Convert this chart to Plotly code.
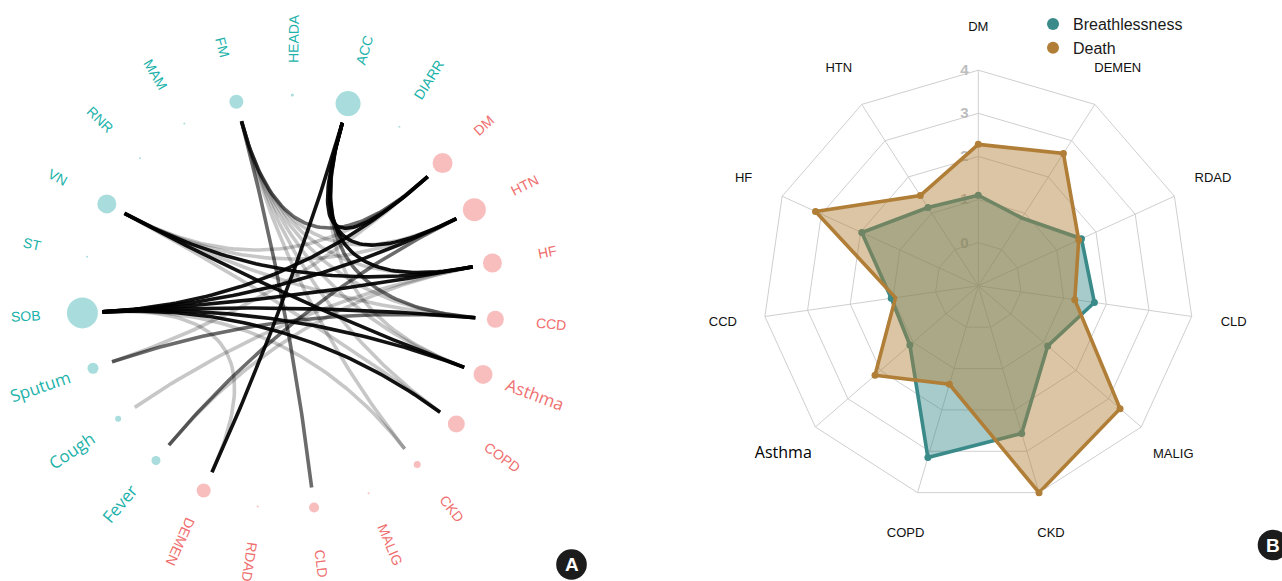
import numpy as np
import plotly.graph_objects as go

# ---------------- Panel A: symptom / comorbidity network ----------------
nodes = ["HEADA", "ACC", "DIARR", "DM", "HTN", "HF", "CCD", "Asthma", "COPD",
         "CKD", "MALIG", "CLD", "RDAD", "DEMEN", "Fever", "Cough", "Sputum",
         "SOB", "ST", "VN", "RNR", "MAM", "FM"]
node_kind = ["sym", "sym", "sym", "dis", "dis", "dis", "dis", "dis", "dis",
             "dis", "dis", "dis", "dis", "dis", "sym", "sym", "sym",
             "sym", "sym", "sym", "sym", "sym", "sym"]
node_size = [3, 25, 2, 20, 23, 19, 17, 19, 17,
             7, 2, 10, 2, 14, 9, 6, 11,
             31, 2, 19, 2, 2, 14]
large_labels = ["Sputum", "Cough", "Fever", "Asthma"]

edge_src = ["SOB", "SOB", "SOB", "SOB", "SOB", "SOB", "SOB", "SOB",
            "ACC", "ACC", "ACC", "ACC", "ACC", "ACC",
            "VN", "VN", "VN", "VN", "VN", "VN",
            "FM", "FM", "FM", "FM", "FM", "FM", "FM", "FM",
            "Sputum", "Sputum", "Cough", "Fever", "Fever"]
edge_dst = ["DM", "HTN", "HF", "CCD", "Asthma", "COPD", "CKD", "DEMEN",
            "DM", "HTN", "HF", "CCD", "DEMEN", "Asthma",
            "DM", "HTN", "HF", "CCD", "Asthma", "COPD",
            "DM", "HTN", "HF", "CCD", "Asthma", "COPD", "CKD", "CLD",
            "CCD", "DM", "HF", "HTN", "HF"]
edge_strength = [3, 3, 3, 3, 3, 3, 1, 1,
                 3, 3, 3, 2, 3, 1,
                 1, 1, 3, 1, 3, 1,
                 2, 1, 1, 1, 1, 1, 1, 2,
                 2, 1, 1, 2, 1]

# ---------------- Panel B: radar ----------------
categories = ["DM", "DEMEN", "RDAD", "CLD", "MALIG", "CKD", "COPD", "Asthma",
              "CCD", "HF", "HTN"]
breathlessness = [1.10, 0.87, 1.63, 1.72, 1.13, 2.57, 3.15, 1.10, 1.04, 1.97, 1.16]
death = [2.28, 2.65, 1.56, 1.26, 3.35, 4.00, 1.38, 2.17, 0.94, 3.15, 1.49]
radial_ticks = [0, 1, 2, 3, 4]

W, H = 1282, 581
TEAL_TXT, CORAL_TXT = "#20B2AA", "#EF6E6E"
TEAL_NODE, CORAL_NODE = "#85CFCF", "#F5A3A3"

fig = go.Figure()

# circular layout, clockwise from the top
n = len(nodes)
ang_deg = 89.1 - np.arange(n) * 360.0 / n
ang = np.radians(ang_deg)
nx, ny = np.cos(ang), np.sin(ang)
idx = {name: i for i, name in enumerate(nodes)}

EDGE_R = 0.903
LABEL_R = 1.272
edge_rgba = {1: "rgba(0,0,0,0.22)", 2: "rgba(0,0,0,0.58)", 3: "rgba(0,0,0,0.93)"}

t = np.linspace(0, 1, 60)
order = sorted(range(len(edge_src)), key=lambda k: edge_strength[k])
for k in order:
    a, b = idx[edge_src[k]], idx[edge_dst[k]]
    p0 = EDGE_R * np.array([nx[a], ny[a]])
    p2 = EDGE_R * np.array([nx[b], ny[b]])
    # quadratic Bezier bent through the circle centre
    cx_ = (1 - t) ** 2 * p0[0] + t ** 2 * p2[0]
    cy_ = (1 - t) ** 2 * p0[1] + t ** 2 * p2[1]
    fig.add_trace(go.Scatter(x=cx_, y=cy_, mode="lines",
                             line=dict(color=edge_rgba[edge_strength[k]], width=3.6),
                             hoverinfo="skip", showlegend=False,
                             xaxis="x", yaxis="y"))

fig.add_trace(go.Scatter(
    x=nx, y=ny, mode="markers", text=nodes, hoverinfo="text",
    marker=dict(size=node_size,
                color=[TEAL_NODE if k == "sym" else CORAL_NODE for k in node_kind],
                line=dict(width=0)),
    showlegend=False, xaxis="x", yaxis="y"))

annotations = []
for i, name in enumerate(nodes):
    a = ang_deg[i] % 360
    if 90 < a < 240:
        rot = 180 - a
    else:
        rot = -a
    rot = (rot + 180) % 360 - 180
    big = name in large_labels
    annotations.append(dict(
        x=LABEL_R * nx[i], y=LABEL_R * ny[i], xref="x", yref="y",
        text=name, showarrow=False, textangle=rot,
        xanchor="center", yanchor="middle",
        font=dict(family="Open Sans" if big else "Liberation Sans, Arial",
                  size=17 if big else 14,
                  color=TEAL_TXT if node_kind[i] == "sym" else CORAL_TXT)))

# ---------------- radar traces ----------------
closed = categories + [categories[0]]
series = [("Breathlessness", breathlessness, "#3B8A8A", "rgba(59,138,138,0.45)"),
          ("Death", death, "#B07E36", "rgba(176,126,54,0.45)")]
for name, vals, col, fill in series:
    r = list(vals) + [vals[0]]
    fig.add_trace(go.Scatterpolar(r=r, theta=closed, mode="lines", fill="toself",
                                  fillcolor=fill, line=dict(color=col, width=3.6),
                                  showlegend=False, hoverinfo="skip"))
    fig.add_trace(go.Scatterpolar(r=vals, theta=categories, mode="markers", name=name,
                                  marker=dict(color=col, size=7)))

# category names: a concentric, axis-less polar frame slightly larger than the
# radar, so each name sits centred on its spoke just outside the outer ring
cxp, cyp, R = 978.3, 285.8, 215.6
R_TXT = 272.0
LABEL_RING = 258.0 / R_TXT
cat_text = [c if c != "Asthma" else
            "<span style='font-family:Open Sans;font-size:16px;color:#000'>Asthma</span>"
            for c in categories]
fig.add_trace(go.Scatterpolar(r=[LABEL_RING] * len(categories), theta=categories,
                              mode="text", text=cat_text, textposition="middle center",
                              textfont=dict(family="Liberation Sans, Arial", size=13,
                                            color="#111111"),
                              subplot="polar2", cliponaxis=False,
                              showlegend=False, hoverinfo="skip"))

fig.update_layout(
    width=W, height=H,
    margin=dict(l=0, r=0, t=0, b=0),
    paper_bgcolor="white", plot_bgcolor="white",
    xaxis=dict(domain=[0, 600 / W], range=[-289.1 / 207, (600 - 289.1) / 207],
               visible=False, fixedrange=True),
    yaxis=dict(domain=[0, 1], range=[-(H - 302) / 207, 302 / 207],
               visible=False, fixedrange=True),
    polar=dict(
        domain=dict(x=[(cxp - R) / W, (cxp + R) / W],
                    y=[(H - cyp - R) / H, (H - cyp + R) / H]),
        bgcolor="white",
        gridshape="linear",
        radialaxis=dict(range=[-1, 4], tickvals=radial_ticks, angle=90,
                        side="counterclockwise", tickangle=90,
                        showline=False, ticks="outside", ticklen=4,
                        tickcolor="rgba(0,0,0,0)",
                        gridcolor="#cfcfcf", gridwidth=1,
                        tickfont=dict(family="Liberation Sans, Arial", size=15,
                                      color="#bdbdbd", weight="bold"),
                        layer="below traces"),
        angularaxis=dict(categoryarray=categories, type="category",
                         rotation=90, direction="clockwise",
                         showline=True, linecolor="#cfcfcf", linewidth=1,
                         gridcolor="#cfcfcf", gridwidth=1,
                         ticks="", showticklabels=False,
                         layer="below traces"),
    ),
    polar2=dict(
        domain=dict(x=[(cxp - R_TXT) / W, (cxp + R_TXT) / W],
                    y=[(H - cyp - R_TXT) / H, (H - cyp + R_TXT) / H]),
        bgcolor="rgba(0,0,0,0)",
        radialaxis=dict(range=[0, 1], visible=False, showgrid=False),
        angularaxis=dict(categoryarray=categories, type="category",
                         rotation=90, direction="clockwise",
                         visible=False, showgrid=False, showline=False),
    ),
    legend=dict(x=1033 / W, y=1 - 7 / H, xanchor="left", yanchor="top",
                itemsizing="constant", bgcolor="rgba(0,0,0,0)",
                font=dict(family="Liberation Sans, Arial", size=16, color="#1a1a1a"),
                tracegroupgap=0),
    annotations=annotations,
)

# panel badges
for letter, (bx, by) in {"A": (571.5, 564.5), "B": (1273, 545)}.items():
    fig.add_shape(type="circle", xref="paper", yref="paper",
                  x0=(bx - 15.3) / W, x1=(bx + 15.3) / W,
                  y0=(H - by - 15.3) / H, y1=(H - by + 15.3) / H,
                  fillcolor="#1c1c1c", line=dict(width=0))
    fig.add_annotation(x=bx / W, y=1 - by / H, xref="paper", yref="paper",
                       text="<b>%s</b>" % letter, showarrow=False,
                       xanchor="center", yanchor="middle",
                       font=dict(family="Liberation Sans, Arial", size=19, color="white"))

fig.write_html("out.html")
